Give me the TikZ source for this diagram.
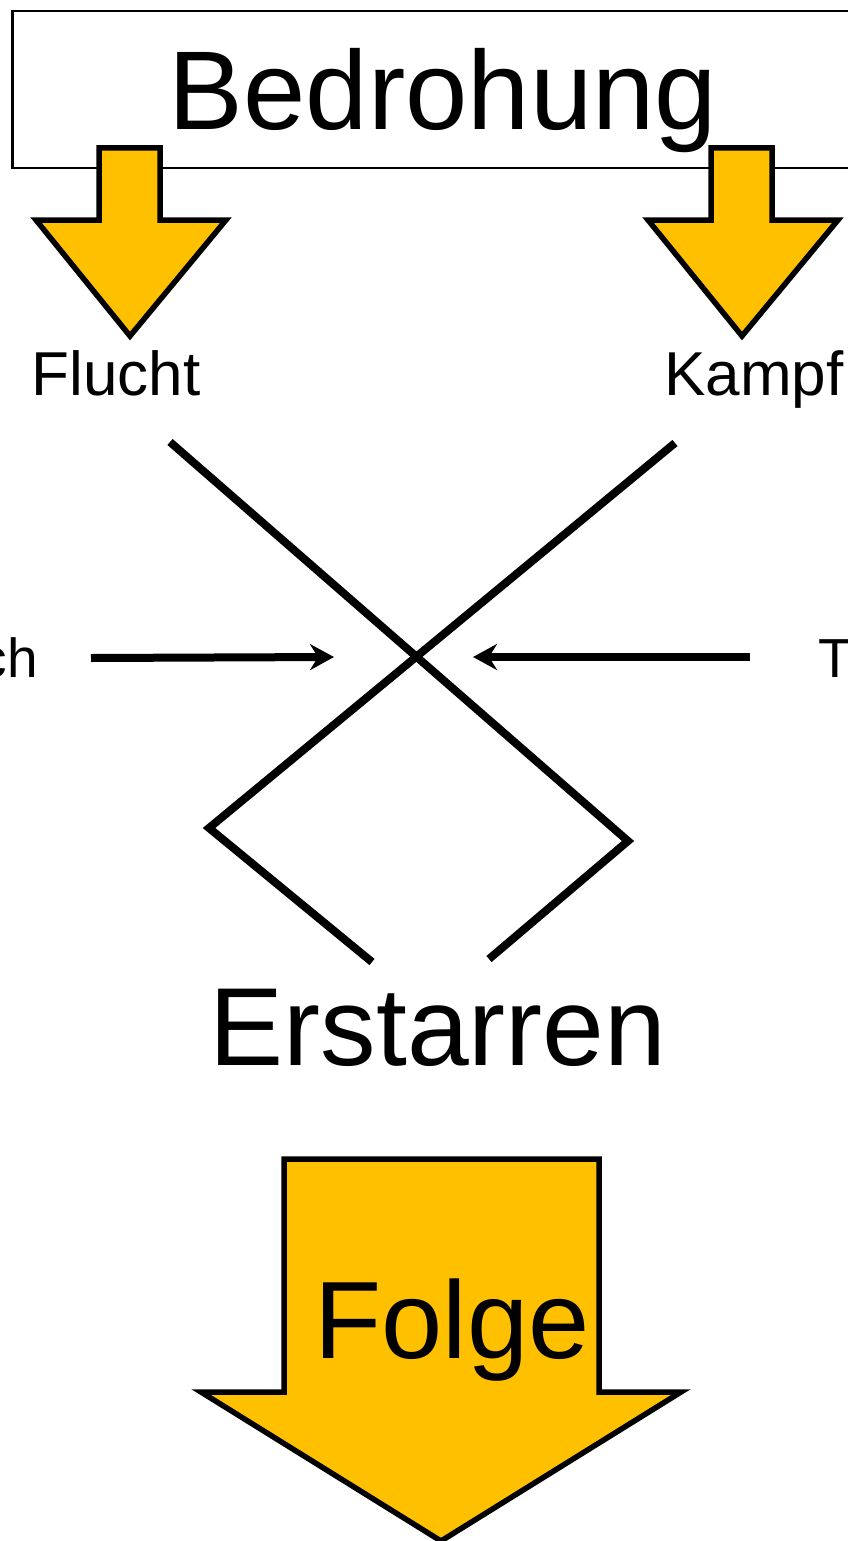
\documentclass[tikz,border=0pt]{standalone}
\usepackage{fontspec}
\setmainfont{Liberation Sans}
\usetikzlibrary{arrows.meta}
\definecolor{gold}{HTML}{FFC000}
\tikzset{
  bigarrow/.style={fill=gold, draw=black, line width=5.5pt, line join=miter},
  stroke/.style={draw=black, line width=8pt, line join=miter},
  pointer/.style={draw=black, line width=8pt, -{Stealth[length=24pt, width=26pt, inset=8pt]}},
  lbl/.style={inner sep=0pt, anchor=base},
}
\begin{document}
\begin{tikzpicture}[x=1pt, y=-1pt]
\useasboundingbox (0,0) rectangle (848,1541);
\clip (0,0) rectangle (848,1541);

% header box
\node[draw=black, line width=2.5pt, minimum width=900pt, minimum height=157pt, inner sep=0pt, anchor=north west] (box) at (11,10) {};
\node[lbl, font=\fontsize{112}{120}\selectfont] (threat) at (443,130) {Bedrohung};

% two small arrows below the header
\draw[bigarrow] (99,148) -- (160,148) -- (160,220) -- (226,220) -- (130,336) -- (36,220) -- (99,220) -- cycle;
\draw[bigarrow] (711,148) -- (772,148) -- (772,220) -- (838,220) -- (742,336) -- (648,220) -- (711,220) -- cycle;

\node[lbl, font=\fontsize{62}{70}\selectfont] (flight) at (116,395) {Flucht};
\node[lbl, font=\fontsize{62}{70}\selectfont] (fight) at (754,395) {Kampf};

% crossing paths
\coordinate (a1) at (170,442);
\coordinate (a2) at (628,841);
\coordinate (a3) at (489,959);
\coordinate (b1) at (675,443);
\coordinate (b2) at (209,828);
\coordinate (b3) at (372,962);
\draw[stroke] (a1) -- (a2) -- (a3);
\draw[stroke] (b1) -- (b2) -- (b3);

% side labels and pointers
\node[lbl, font=\fontsize{55}{60}\selectfont, anchor=base east] (leftlbl) at (38,677) {ch};
\node[lbl, font=\fontsize{55}{60}\selectfont, anchor=base west] (rightlbl) at (818,677) {T};
\coordinate (lstart) at (91,658);
\coordinate (ltip) at (334,657);
\coordinate (rstart) at (750,657);
\coordinate (rtip) at (473,657);
\draw[pointer] (lstart) -- (ltip);
\draw[pointer] (rstart) -- (rtip);

\node[lbl, font=\fontsize{111}{120}\selectfont] (freeze) at (438,1065) {Erstarren};

% large result arrow
\draw[bigarrow] (284,1159) -- (599,1159) -- (599,1392) -- (681,1392) -- (441,1541) -- (201,1392) -- (284,1392) -- cycle;
\node[lbl, font=\fontsize{110}{120}\selectfont] (result) at (452,1358) {Folge};
\end{tikzpicture}
\end{document}
